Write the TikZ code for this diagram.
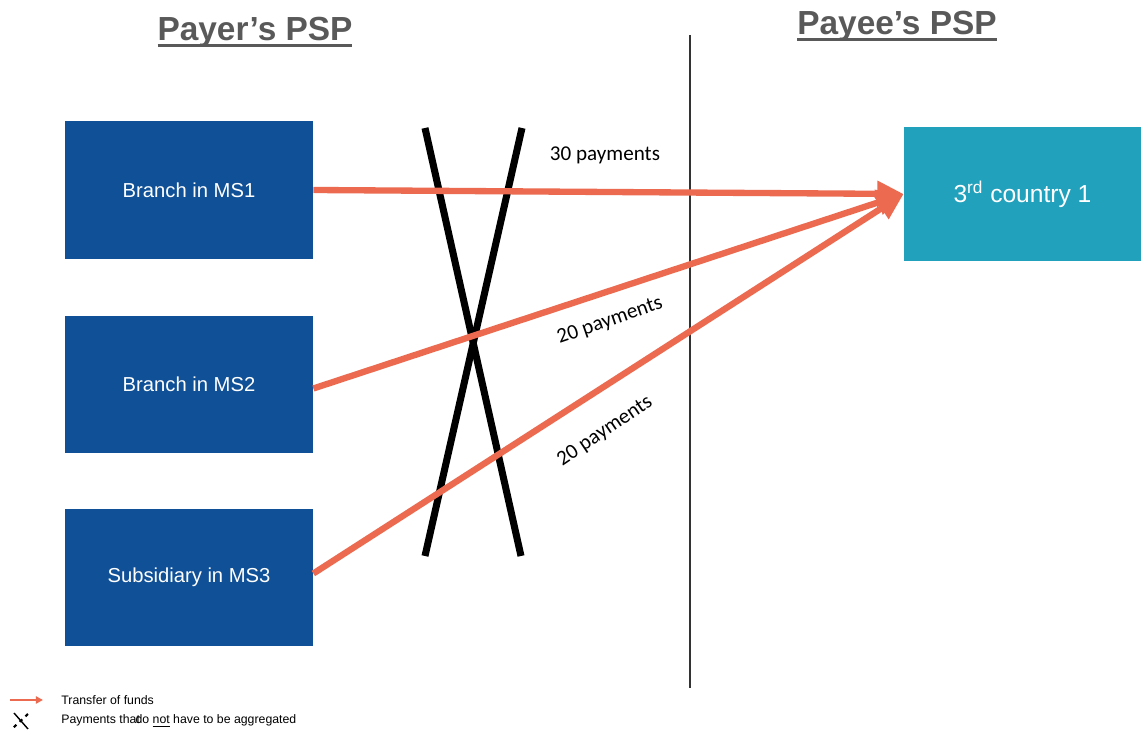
\documentclass[tikz,border=0pt]{standalone}
\usepackage{fontspec}
\setmainfont{Liberation Sans}
\newfontfamily\calfont{Carlito}
\usetikzlibrary{
    arrows.meta,
    positioning,
    calc
}
\definecolor{msblue}{RGB}{16,80,150}
\definecolor{tcteal}{RGB}{34,161,189}
\definecolor{fundred}{RGB}{235,106,80}
\definecolor{titlegray}{RGB}{89,89,89}
\newcommand{\thickul}[1]{\setbox0\hbox{#1}\rlap{\rule[-0.2em]{\wd0}{0.09em}}\box0}

\begin{document}
\begin{tikzpicture}[
  psp/.style={
    draw=none, fill=msblue, text=white,
    minimum width=4.96cm, minimum height=2.75cm,
    font=\fontsize{11.5}{13}\selectfont, align=center},
  third/.style={
    draw=none, fill=tcteal, text=white,
    minimum width=4.74cm, minimum height=2.68cm,
    font=\fontsize{14}{16}\selectfont, align=center},
  title/.style={font=\fontsize{19}{22}\selectfont\bfseries, text=titlegray},
  fund/.style={-{Triangle[length=15pt, width=14pt]}, line width=3.6pt, fundred},
  cross/.style={line width=4pt, black},
  cnt/.style={font=\calfont\fontsize{12}{14}\selectfont},
  lbl/.style={font=\fontsize{7}{8}\selectfont, anchor=west, inner sep=0pt}
]
\useasboundingbox (0,0) rectangle (22.82,-14.62);

\node[title] (payer) at (5.10,-0.64) {\thickul{Payer’s PSP}};
\node[title] (payee) at (17.94,-0.52) {\thickul{Payee’s PSP}};

\node[psp]   (ms1) at (3.78,-3.80)  {Branch in MS1};
\node[psp]   (ms2) at (3.78,-7.69)  {Branch in MS2};
\node[psp]   (ms3) at (3.78,-11.55) {Subsidiary in MS3};
\node[third] (tc)  at (20.45,-3.88) {3\textsuperscript{rd} country 1};

%% Border between the two PSPs
\coordinate (bt) at (13.80,-0.70);
\coordinate (bb) at (13.80,-13.76);
\draw[line width=0.6pt, black!80] (bt) -- (bb);

%% Crossed out: no aggregation
\coordinate (xa) at (8.50,-2.56);
\coordinate (xb) at (10.42,-11.12);
\coordinate (xc) at (10.44,-2.56);
\coordinate (xd) at (8.50,-11.12);
\draw[cross] (xa) -- (xb);
\draw[cross] (xc) -- (xd);

%% Transfers of funds
\draw[fund] (ms1.east) -- (tc.west);
\draw[fund] ($(ms2.east)+(0,-0.08)$) -- (tc.west);
\draw[fund] ($(ms3.east)+(0,0.08)$) -- (tc.west);

\node[cnt] (n1) at (12.10,-3.10) {30 payments};
\node[cnt, rotate=19] (n2) at (12.20,-6.42) {20 payments};
\node[cnt, rotate=34] (n3) at (12.10,-8.62) {20 payments};

%% Legend
\coordinate (la) at (0.20,-14.00);
\coordinate (lb) at (0.86,-14.00);
\draw[-{Triangle[length=4pt, width=4pt]}, line width=1.1pt, fundred] (la) -- (lb);
\node[lbl] (l1) at (1.22,-14.00) {Transfer of funds};
\coordinate (ia) at (0.28,-14.26);
\coordinate (ib) at (0.56,-14.58);
\coordinate (ic) at (0.56,-14.28);
\coordinate (id) at (0.26,-14.56);
\draw[line width=0.8pt] (ia) -- (ib);
\draw[line width=1.2pt, dash pattern=on 2pt off 2.5pt] (ic) -- (id);
\node[lbl] (l2) at (1.22,-14.42) {Payments that\kern-2.5pt do \underline{not} have to be aggregated};

\end{tikzpicture}
\end{document}
